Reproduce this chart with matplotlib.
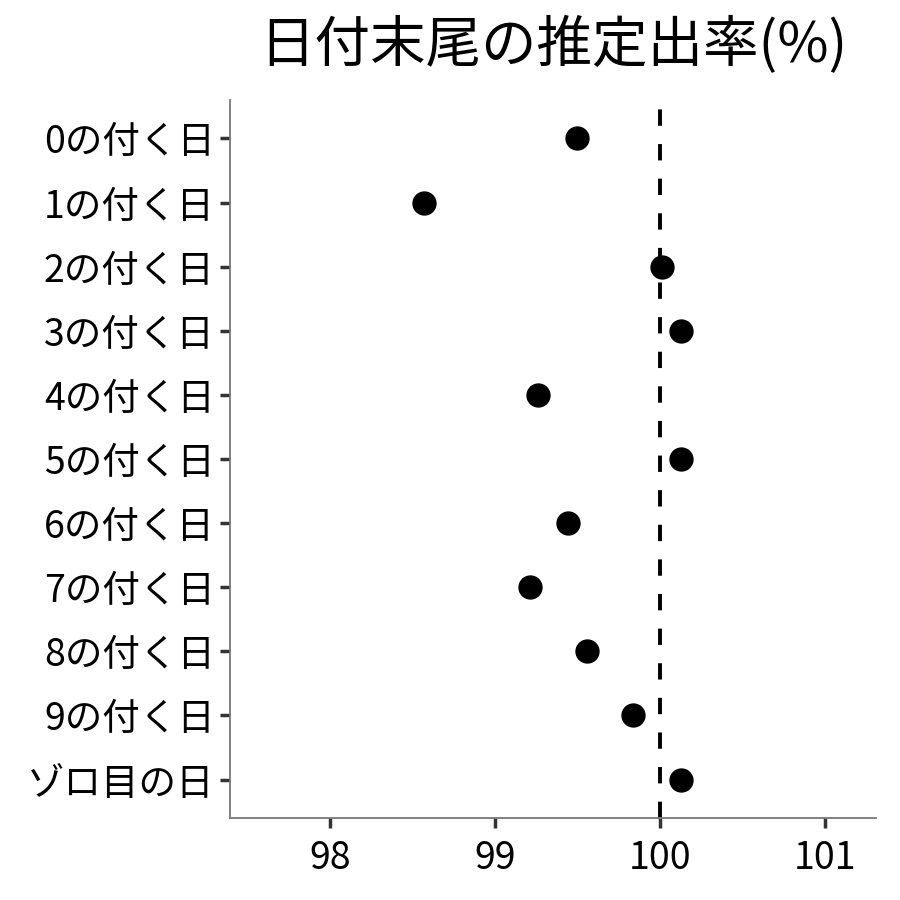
import matplotlib
matplotlib.use("Agg")
import matplotlib.pyplot as plt

plt.rcParams['font.family'] = ['Noto Sans CJK JP', 'DejaVu Sans']

categories = ["0の付く日", "1の付く日", "2の付く日", "3の付く日", "4の付く日",
              "5の付く日", "6の付く日", "7の付く日", "8の付く日", "9の付く日", "ゾロ目の日"]
rates = [99.50, 98.57, 100.01, 100.13, 99.26, 100.13, 99.44, 99.21, 99.56, 99.84, 100.13]
xticks = [98, 99, 100, 101]

fig = plt.figure(figsize=(9, 9), dpi=100)
ax = fig.add_axes([0.2556, 0.0911, 0.7177, 0.7978])

ys = list(range(len(categories)))
ax.axvline(100, color="black", linestyle=(0, (4.2, 4.7)), linewidth=2.8, zorder=1)
ax.plot(rates, ys, "o", color="black", markersize=16.5, zorder=3)

ax.set_yticks(ys)
ax.set_yticklabels(categories)
ax.set_ylim(len(categories) - 0.4, -0.6)
ax.set_xticks(xticks)
ax.set_xticklabels([str(t) for t in xticks])
ax.set_xlim(97.394, 101.31)

for s in ["top", "right"]:
    ax.spines[s].set_visible(False)
for s in ["left", "bottom"]:
    ax.spines[s].set_color("#777777")
    ax.spines[s].set_linewidth(1.3)
ax.tick_params(axis="both", length=7, width=2.5, color="#333333", labelsize=27,
               labelcolor="black")
ax.tick_params(axis="y", pad=4)
ax.tick_params(axis="x", pad=8)

ax.set_title("日付末尾の推定出率(%)", fontsize=40, pad=27)

fig.savefig("out.png", dpi=100)
